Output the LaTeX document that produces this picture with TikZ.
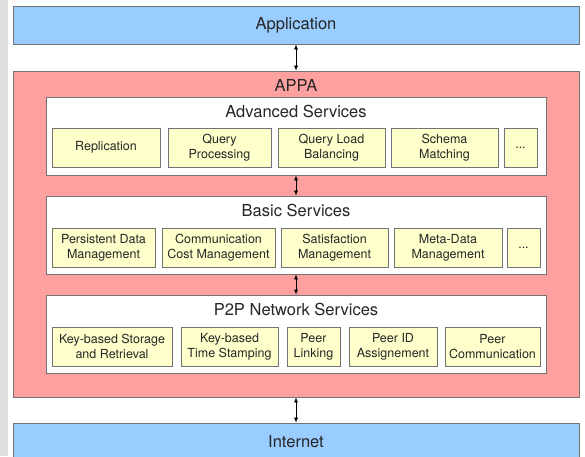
\documentclass[tikz,border=0pt]{standalone}
\usepackage{fontspec}
\setmainfont{TeX Gyre Heros}
\usetikzlibrary{arrows.meta}
\definecolor{appblue}{RGB}{153,204,255}
\definecolor{appared}{RGB}{255,160,160}
\definecolor{itemyellow}{RGB}{255,255,204}
\definecolor{edgegray}{RGB}{115,115,115}
\definecolor{sidegray}{RGB}{222,222,222}

\begin{document}
\begin{tikzpicture}[x=1pt, y=-1pt,
    layer/.style={draw=edgegray, line width=0.8pt, inner sep=0pt},
    title/.style={font=\fontsize{16.5}{18}\selectfont, text=black!85},
    item/.style={draw=edgegray, line width=0.8pt, fill=itemyellow, inner sep=0pt,
        minimum height=39pt, align=center, font=\fontsize{12.5}{15}\selectfont, text=black!85},
    link/.style={{Latex[length=5pt,width=4pt]}-{Latex[length=5pt,width=4pt]}, line width=0.6pt}]
    \useasboundingbox (0,0) rectangle (585,456);
    \fill[sidegray] (0,0) rectangle (8,456);

    % Outer layers
    \node[layer, title, fill=appblue, minimum width=566pt, minimum height=38pt] (app) at (296,25) {Application};
    \node[layer, fill=appared, minimum width=566pt, minimum height=326pt] (appa) at (296,234) {};
    \node[title] (appatitle) at (296,85) {APPA};
    \node[layer, title, fill=appblue, minimum width=566pt, minimum height=38pt] (net) at (296,442) {Internet};

    % Service layers inside APPA
    \node[layer, fill=white, minimum width=500pt, minimum height=78pt] (adv) at (296,136) {};
    \node[layer, fill=white, minimum width=500pt, minimum height=78pt] (basic) at (296,235) {};
    \node[layer, fill=white, minimum width=500pt, minimum height=78pt] (p2p) at (296,334) {};
    \node[title] (advtitle) at (296,111) {Advanced Services};
    \node[title] (basictitle) at (296,210) {Basic Services};
    \node[title] (p2ptitle) at (296,309) {P2P Network Services};

    % Advanced services
    \foreach \c/\w/\t [count=\i] in {106/108/{Replication}, 219.5/103/{Query\\Processing},
        331.5/107/{Query Load\\Balancing}, 444.5/107/{Schema\\Matching}, 520.5/33/{...}} {
        \node[item, minimum width=\w pt] (adv\i) at (\c,147.5) {\t};
    }
    % Basic services
    \foreach \c/\w/\t [count=\i] in {103.5/103/{Persistent Data\\Management}, 218.5/113/{Communication\\Cost Management},
        334.5/107/{Satisfaction\\Management}, 448/108/{Meta-Data\\Management}, 523.5/33/{...}} {
        \node[item, minimum width=\w pt] (basic\i) at (\c,247.5) {\t};
    }
    % P2P network services
    \foreach \c/\w/\t [count=\i] in {112/120/{Key-based Storage\\and Retrieval}, 229.5/97/{Key-based\\Time Stamping},
        313.5/53/{Peer\\Linking}, 393/88/{Peer ID\\Assignement}, 492.5/95/{Peer\\Communication}} {
        \node[item, minimum width=\w pt] (p2p\i) at (\c,346.5) {\t};
    }

    % Links between layers
    \draw[link] (app.south) -- (appa.north);
    \draw[link] (adv.south) -- (basic.north);
    \draw[link] (basic.south) -- (p2p.north);
    \draw[link] (appa.south) -- (net.north);
\end{tikzpicture}
\end{document}
